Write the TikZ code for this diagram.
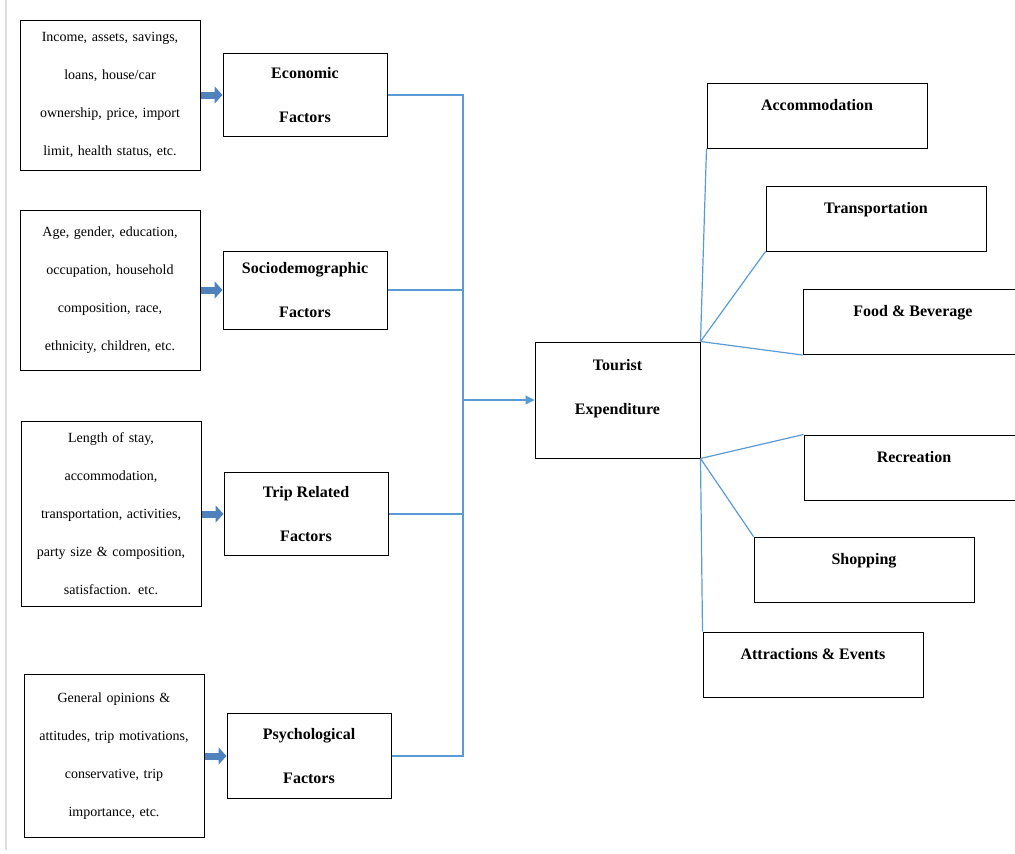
\documentclass[tikz,border=0pt]{standalone}
\usepackage{fontspec}
\setmainfont{Liberation Serif}
\usetikzlibrary{arrows.meta, positioning}
\definecolor{linkblue}{RGB}{91,155,213}
\definecolor{arrowblue}{RGB}{79,129,189}
\tikzset{
    detail/.style={draw, rectangle, line width=1pt, minimum width=180pt, text width=172pt, align=center, font=\fontsize{14}{38}\selectfont},
    factor/.style={draw, rectangle, line width=1pt, minimum width=164pt, minimum height=83pt, align=center, font=\fontsize{16}{44}\selectfont\bfseries},
    category/.style={draw, rectangle, line width=1pt, minimum width=220pt, minimum height=65pt, text depth=22pt, align=center, font=\fontsize{16}{19}\selectfont\bfseries},
    fatarrow/.style={draw=arrowblue, line width=7pt, -{Triangle[length=8pt, width=17pt]}},
    link/.style={draw=linkblue, line width=1.2pt}
}

\begin{document}
\begin{tikzpicture}[x=1pt, y=-1pt, node distance=22pt and 22pt]
    \useasboundingbox (0,0) rectangle (1015,854);
    \draw [gray!25, line width=1.5pt] (6,0) -- (6,850);

    % influencing details
    \node [detail, minimum height=150pt] (incomes) at (110,95) {Income, assets, savings,\\ loans, house/car\\ ownership, price, import\\ limit, health status, etc.};
    \node [detail, minimum height=160pt] (ages) at (110,290) {Age, gender, education,\\ occupation, household\\ composition, race,\\ ethnicity, children, etc.};
    \node [detail, minimum height=185pt] (stays) at (111,514) {Length of stay,\\ accommodation,\\ transportation, activities,\\ party size \& composition,\\ satisfaction. etc.};
    \node [detail, minimum height=163pt] (opinions) at (114,756) {General opinions \&\\ attitudes, trip motivations,\\ conservative, trip\\ importance, etc.};

    % factor groups
    \node [factor, right=of incomes] (econ) {Economic\\ Factors};
    \node [factor, right=of ages, minimum height=78pt] (socio) {Sociodemographic\\ Factors};
    \node [factor, right=of stays] (trip) {Trip Related\\ Factors};
    \node [factor, right=of opinions, minimum height=85pt] (psych) {Psychological\\ Factors};

    \draw [fatarrow] (incomes) -- (econ);
    \draw [fatarrow] (ages) -- (socio);
    \draw [fatarrow] (stays) -- (trip);
    \draw [fatarrow] (opinions) -- (psych);

    % expenditure and its categories
    \node [factor, minimum width=165pt, minimum height=116pt, text depth=27pt] (tourist) at (617.5,400) {Tourist\\ Expenditure};
    \node [category] (accom) at (817,115.5) {Accommodation};
    \node [category] (transp) at (876,218.5) {Transportation};
    \node [category] (food) at (913,322) {Food \& Beverage};
    \node [category] (recr) at (914,467.5) {Recreation};
    \node [category] (shop) at (864,569.5) {Shopping};
    \node [category] (attr) at (813,664.5) {Attractions \& Events};

    \coordinate (bus) at (463,400);
    \draw [link] (econ.east) -- (econ.east -| bus) -- (psych.east -| bus) -- (psych.east);
    \draw [link] (socio.east) -- (socio.east -| bus);
    \draw [link] (trip.east) -- (trip.east -| bus);
    \draw [link, -{Triangle[length=9pt, width=9pt]}] (bus) -- (tourist);

    \draw [link] (tourist.north east) -- (accom.south west);
    \draw [link] (tourist.north east) -- (transp.south west);
    \draw [link] (tourist.north east) -- (food.south west);
    \draw [link] (tourist.south east) -- (recr.north west);
    \draw [link] (tourist.south east) -- (shop.north west);
    \draw [link] (tourist.south east) -- (attr.north west);
\end{tikzpicture}
\end{document}
